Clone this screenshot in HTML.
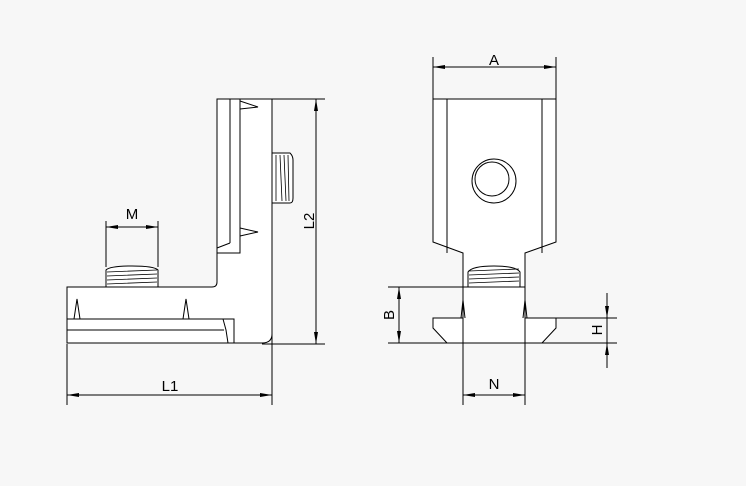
<!DOCTYPE html>
<html><head><meta charset="utf-8"><style>
html,body{margin:0;padding:0;background:#f7f7f7;}
svg{display:block;}
text{font-family:"Liberation Sans",sans-serif;font-size:15px;fill:#000;}
</style></head><body>
<svg width="746" height="486" viewBox="0 0 746 486" xmlns="http://www.w3.org/2000/svg">
<defs>
<marker id="ar" markerWidth="12" markerHeight="6" refX="12" refY="3" orient="auto" markerUnits="userSpaceOnUse">
<path d="M0,1 L12,3 L0,5 Z" fill="#000"/></marker>
</defs>
<g fill="#fff" stroke="#000" stroke-width="1">
<!-- LEFT VIEW -->
<path d="M67,287 H212 Q217,287 217,282 V99 H272 V334 Q272,343 262,343 H67 Z"/>
<path d="M230,99 V243 M240,99 V253 H217 M217,248 L230,243" fill="none"/>
<path d="M67,319 H234 V343 M67,330 H224 M223,319 L226,330 L228,343" fill="none"/>
<path d="M74,319 L77,299 L80,319 M183,319 L186,299 L189,319" fill="none"/>
<path d="M240,101 L258,107 L240,109 M240,228 L258,232 L240,236" fill="none"/>
<path d="M106,287 V270 Q110,266 132,266 Q154,266 158,270 V287 Z"/>
<path d="M107,272 L157,270 M107,276 L157,274 M107,280 L157,278 M107,284 L157,282" fill="none" stroke-width="0.8"/>
<path d="M272,153 H290 Q293,156 293,160 V198 Q293,203 290,203 H272 Z"/>
<path d="M276,155 V201 M280,155 L282,201 M284,155 L286,201 M288,155 L289,201" fill="none" stroke-width="0.8"/>
<!-- RIGHT VIEW -->
<path d="M433,99 H556 V242 L525,253 V318 H556 V328 L542,343 H447 L433,328 V318 H463 V253 L433,242 Z"/>
<path d="M447,99 V253 M542,99 V253 M463,253 V343 M525,253 V343" fill="none"/>
<circle cx="494" cy="181" r="22"/>
<circle cx="492" cy="179" r="17"/>
<path d="M468,287 V272 Q472,266 494,266 Q516,266 520,272 V287 Z"/>
<path d="M469,271 L519,269 M469,275 L519,273 M469,279 L519,277 M469,283 L519,281" fill="none" stroke-width="0.8"/>
<path d="M463,287 H525" fill="none"/>
<path d="M461,318 L463,300 L465,318 M523,318 L525,300 L527,318" fill="none"/>
</g>
<g stroke="#000" stroke-width="1" fill="none">
<path d="M106,221 V267 M158,221 V267"/>
<line x1="132" y1="227" x2="106" y2="227" marker-end="url(#ar)"/>
<line x1="132" y1="227" x2="158" y2="227" marker-end="url(#ar)"/>
<path d="M272,99 H325 M262,344 H325"/>
<line x1="316" y1="220" x2="316" y2="99" marker-end="url(#ar)"/>
<line x1="316" y1="220" x2="316" y2="344" marker-end="url(#ar)"/>
<path d="M67,344 V405 M272,334 V405"/>
<line x1="170" y1="395" x2="67" y2="395" marker-end="url(#ar)"/>
<line x1="170" y1="395" x2="272" y2="395" marker-end="url(#ar)"/>
<path d="M433,57 V99 M556,57 V99"/>
<line x1="494" y1="67" x2="433" y2="67" marker-end="url(#ar)"/>
<line x1="494" y1="67" x2="556" y2="67" marker-end="url(#ar)"/>
<path d="M388,287 H463 M388,343 H617 M556,318 H617"/>
<line x1="399" y1="315" x2="399" y2="287" marker-end="url(#ar)"/>
<line x1="399" y1="315" x2="399" y2="343" marker-end="url(#ar)"/>
<line x1="607" y1="293" x2="607" y2="318" marker-end="url(#ar)"/>
<line x1="607" y1="368" x2="607" y2="343" marker-end="url(#ar)"/>
<line x1="607" y1="318" x2="607" y2="343"/>
<path d="M463,343 V405 M525,343 V405"/>
<line x1="494" y1="395" x2="463" y2="395" marker-end="url(#ar)"/>
<line x1="494" y1="395" x2="525" y2="395" marker-end="url(#ar)"/>
</g>
<text x="132" y="219" text-anchor="middle">M</text>
<text x="170" y="391" text-anchor="middle">L1</text>
<text x="494" y="65" text-anchor="middle">A</text>
<text x="494" y="389" text-anchor="middle">N</text>
<text transform="translate(314,221) rotate(-90)" text-anchor="middle">L2</text>
<text transform="translate(394,315) rotate(-90)" text-anchor="middle">B</text>
<text transform="translate(602,330) rotate(-90)" text-anchor="middle">H</text>
</svg>
</body></html>
